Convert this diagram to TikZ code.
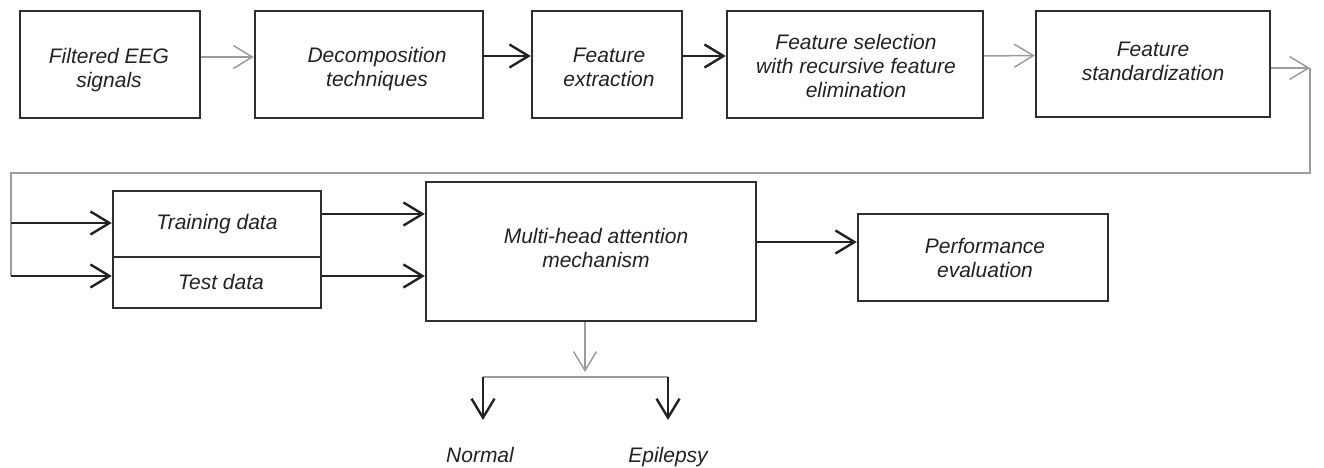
\documentclass[tikz,border=0pt]{standalone}
\usepackage{fontspec}
\setmainfont{Liberation Sans}
\usetikzlibrary{arrows.meta}
\definecolor{ink}{HTML}{222222}
\definecolor{edge}{HTML}{2E2E2E}
\definecolor{pale}{HTML}{9C9C9C}
\tikzset{
  box/.style={draw=edge, line width=2.4pt, minimum width=#1, inner sep=0pt},
  txt/.style={text=ink, align=center, inner sep=0pt,
    font=\fontsize{21}{24}\selectfont\itshape},
  tip/.style={-{Straight Barb[length=19pt, width=23pt, line width=#1]}},
  darkarrow/.style={draw=ink, line width=2.6pt, tip=2.4pt},
  palearrow/.style={draw=pale, line width=1.5pt, tip=1.5pt},
  paleline/.style={draw=pale, line width=1.5pt},
}
\begin{document}
\begin{tikzpicture}[x=1pt, y=-1pt]
\useasboundingbox (0,0) rectangle (1324,468);

% top row of processing stages
\node[box=180pt, minimum height=107pt] (b1) at (110,64.5) {};
\node[box=228pt, minimum height=107pt] (b2) at (369,64.5) {};
\node[box=150pt, minimum height=107pt] (b3) at (607,64.5) {};
\node[box=256pt, minimum height=107pt] (b4) at (855,64.5) {};
\node[box=234pt, minimum height=106pt] (b5) at (1153,64) {};

\node[txt] (t1) at (109,70) {Filtered EEG\\signals};
\node[txt] (t2) at (377,69) {Decomposition\\techniques};
\node[txt] (t3) at (609,67.5) {Feature\\extraction};
\node[txt] (t4) at (856,66) {Feature selection\\with recursive feature\\elimination};
\node[txt] (t5) at (1153,61.5) {Feature\\standardization};

% data split
\node[box=208pt, minimum height=66pt] (train) at (217,224) {};
\node[box=208pt, minimum height=51pt] (test) at (217,282.5) {};
\node[txt] (ttrain) at (217,224) {Training data};
\node[txt] (ttest) at (221,282) {Test data};

% model and evaluation
\node[box=330pt, minimum height=139pt] (mha) at (591,251.5) {};
\node[box=250pt, minimum height=87pt] (perf) at (983,257.5) {};
\node[txt] (tmha) at (596,247.5) {Multi-head attention\\mechanism};
\node[txt] (tperf) at (985,257.5) {Performance\\evaluation};

% outputs
\node[txt, anchor=base] (normal) at (480,462) {Normal};
\node[txt, anchor=base] (epi) at (668,462) {Epilepsy};

% routing points
\coordinate (turn) at (1310,68);
\coordinate (ra) at (1310,173);
\coordinate (la) at (11,173);
\coordinate (lb) at (11,276);
\coordinate (ltrain) at (11,223);
\coordinate (split) at (585,372);
\coordinate (sl) at (483,377);
\coordinate (sr) at (668,377);
\coordinate (nl) at (483,420);
\coordinate (nr) at (668,420);

% connectors along the top row
\draw[palearrow] ([yshift=7.5pt]b1.east) -- ([yshift=7.5pt]b2.west);
\draw[darkarrow] ([yshift=8.5pt]b2.east) -- ([yshift=8.5pt]b3.west);
\draw[darkarrow] ([yshift=8.5pt]b3.east) -- ([yshift=8.5pt]b4.west);
\draw[palearrow] ([yshift=8.5pt]b4.east) -- ([yshift=8.5pt]b5.west);
\draw[palearrow] (b5.east |- turn) -- (turn);
\draw[paleline] (turn) -- (ra) -- (la) -- (lb);

% feeding the split data
\draw[darkarrow] (ltrain) -- (train.west |- ltrain);
\draw[darkarrow] (lb) -- (test.west |- lb);
\draw[darkarrow] ([yshift=10pt]train.east) -- (mha.west |- {(0,214)});
\draw[darkarrow] ([yshift=6.5pt]test.east) -- (mha.west |- {(0,276)});
\draw[darkarrow] ([yshift=9.5pt]mha.east) -- ([yshift=15.5pt]perf.west);

% classification outputs
\draw[palearrow] (mha.south -| split) -- (split);
\draw[paleline] (sl) -- (sr);
\draw[darkarrow] (sl) -- (nl);
\draw[darkarrow] (sr) -- (nr);
\end{tikzpicture}
\end{document}
